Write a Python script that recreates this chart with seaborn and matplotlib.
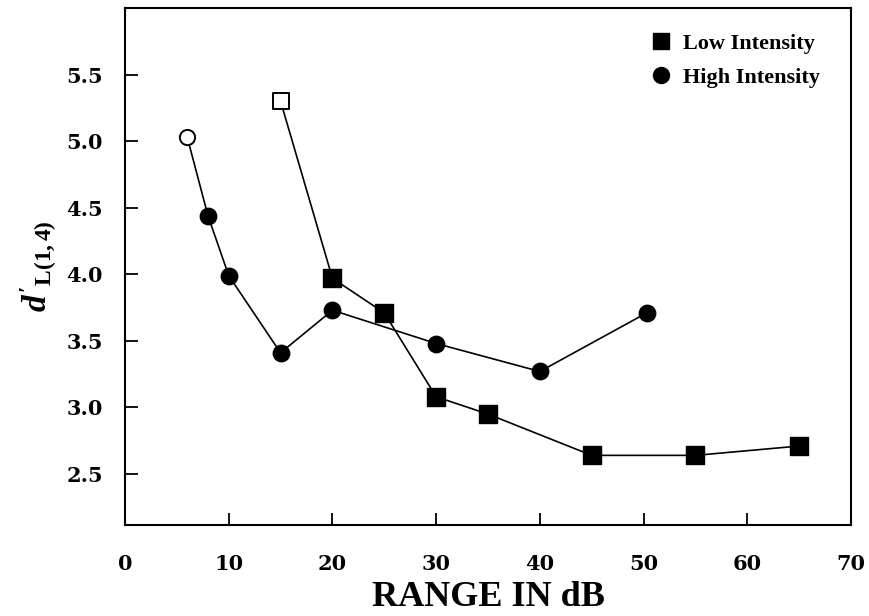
import matplotlib
matplotlib.use("Agg")
import matplotlib.pyplot as plt
import seaborn as sns
import pandas as pd
from matplotlib.lines import Line2D

low_x = [15, 20, 25, 30, 35, 45, 55, 65]
low_y = [5.30, 3.97, 3.71, 3.08, 2.95, 2.64, 2.64, 2.71]
low_open = [True, False, False, False, False, False, False, False]

high_x = [6, 8, 10, 15, 20, 30, 40, 50.3]
high_y = [5.03, 4.44, 3.99, 3.41, 3.73, 3.48, 3.27, 3.71]
high_open = [True, False, False, False, False, False, False, False]

x_ticks = [0, 10, 20, 30, 40, 50, 60, 70]
y_ticks = [2.5, 3.0, 3.5, 4.0, 4.5, 5.0, 5.5]

sns.set_theme(style="ticks")
plt.rcParams["font.family"] = ["Liberation Serif", "DejaVu Serif"]
plt.rcParams["font.weight"] = "bold"
plt.rcParams["text.color"] = "black"
plt.rcParams["axes.labelcolor"] = "black"
plt.rcParams["xtick.color"] = "black"
plt.rcParams["ytick.color"] = "black"
plt.rcParams["mathtext.fontset"] = "custom"
plt.rcParams["mathtext.rm"] = "Liberation Serif:bold"
plt.rcParams["mathtext.it"] = "Liberation Serif:italic:bold"
plt.rcParams["mathtext.bf"] = "Liberation Serif:bold"

fig = plt.figure(figsize=(8.69, 6.16), dpi=100)
ax = fig.add_axes([125/869, 1-525/616, (851-125)/869, (525-8)/616])

low = pd.DataFrame({"x": low_x, "y": low_y, "open": low_open})
high = pd.DataFrame({"x": high_x, "y": high_y, "open": high_open})

for df, mk in [(low, "s"), (high, "o")]:
    sns.lineplot(data=df, x="x", y="y", ax=ax, color="black", lw=1.2,
                 sort=False, estimator=None, zorder=2)
    ms = 150 if mk == "s" else 140
    filled = df[~df["open"]]
    opened = df[df["open"]]
    sns.scatterplot(data=filled, x="x", y="y", ax=ax, marker=mk, s=ms,
                    color="black", edgecolor="black", linewidth=1, zorder=3)
    sns.scatterplot(data=opened, x="x", y="y", ax=ax, marker=mk,
                    s=130 if mk == "s" else 120,
                    color="white", edgecolor="black", linewidth=1.4, zorder=3)

ax.set_xlim(0, 70)
ax.set_ylim(2.117, 6.0)
ax.set_xticks(x_ticks)
ax.set_xticklabels([str(t) for t in x_ticks])
ax.set_yticks(y_ticks)
ax.set_yticklabels([f"{t:.1f}" for t in y_ticks])
ax.tick_params(direction="in", length=9, width=1.3, labelsize=15)
ax.tick_params(axis="x", pad=21)
ax.tick_params(axis="y", pad=16)
for s in ax.spines.values():
    s.set_linewidth(1.5)
    s.set_color("black")
for lab in ax.get_xticklabels() + ax.get_yticklabels():
    lab.set_fontfamily("DejaVu Serif")
    lab.set_fontweight("bold")
    lab.set_color("black")

ax.set_xlabel("RANGE IN dB", fontsize=26, fontweight="bold", labelpad=5)
ax.set_ylabel(r"$d'_{\mathrm{L(1,4)}}$", fontsize=24, labelpad=6)

handles = [
    Line2D([], [], marker="s", color="black", ls="none", markersize=11.5),
    Line2D([], [], marker="o", color="black", ls="none", markersize=11.5),
]
ax.legend(handles, ["Low Intensity", "High Intensity"], loc="upper right",
          bbox_to_anchor=(820/869, 1-33/616), bbox_transform=fig.transFigure,
          frameon=False, prop={"family": "Liberation Serif", "weight": "bold", "size": 16},
          handlelength=1.0, handletextpad=0.5, labelspacing=0.62,
          borderpad=0, borderaxespad=0)

fig.savefig("out.png", dpi=100, facecolor="white")
